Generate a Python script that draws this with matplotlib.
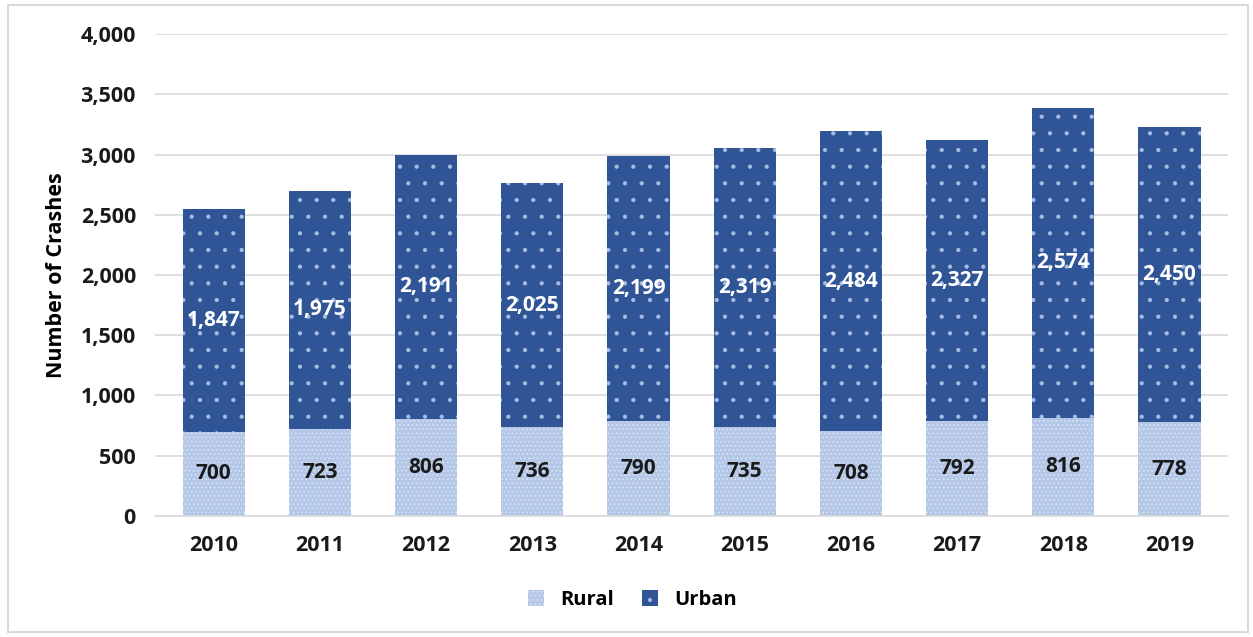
import matplotlib
matplotlib.use('Agg')
import numpy as np
from matplotlib import pyplot as plt
from matplotlib.patches import Rectangle

years = ['2010', '2011', '2012', '2013', '2014', '2015', '2016', '2017', '2018', '2019']
rural = [700, 723, 806, 736, 790, 735, 708, 792, 816, 778]
urban = [1847, 1975, 2191, 2025, 2199, 2319, 2484, 2327, 2574, 2450]

plt.rcParams['font.family'] = ['Open Sans', 'DejaVu Sans']
plt.rcParams['font.weight'] = 'bold'
plt.rcParams['hatch.linewidth'] = 0.6

rural_c = '#b4c7e7'
urban_c = '#2f5597'

fig = plt.figure(figsize=(12.53, 6.37), dpi=100)
ax = fig.add_axes([0.124, 0.19, 0.856, 0.7566])

x = np.arange(len(years))
w = 0.585
b1 = ax.bar(x, rural, w, color=rural_c, edgecolor='#dde6f5', linewidth=0, hatch='....', label='Rural', zorder=2)
b2 = ax.bar(x, urban, w, bottom=rural, color=urban_c, edgecolor='#a9bde3', linewidth=0, hatch='.', label='Urban', zorder=2)

for i in range(len(years)):
    ax.text(x[i], rural[i] / 2, f'{rural[i]:,}', ha='center', va='center',
            fontsize=15, fontweight='bold', color='#1a1a1a', zorder=3)
    ax.text(x[i], rural[i] + urban[i] / 2, f'{urban[i]:,}', ha='center', va='center',
            fontsize=15, fontweight='bold', color='white', zorder=3)

ax.set_ylim(0, 4000)
ax.set_xlim(-0.55, len(years) - 0.45)
ax.set_yticks(np.arange(0, 4001, 500))
ax.yaxis.set_major_formatter(matplotlib.ticker.StrMethodFormatter('{x:,.0f}'))
ax.set_xticks(x)
ax.set_xticklabels(years)
ax.tick_params(axis='both', length=0, labelsize=15.5, colors='#1a1a1a', pad=14)
ax.tick_params(axis='y', pad=14)
ax.grid(axis='y', color='#d9d9d9', linewidth=1.2, zorder=0)
for s in ['top', 'right', 'left']:
    ax.spines[s].set_visible(False)
ax.spines['bottom'].set_color('#d9d9d9')
ax.spines['bottom'].set_linewidth(1.2)
ax.set_ylabel('Number of Crashes', fontsize=15.5, fontweight='bold', labelpad=10)

fig.legend(handles=[b1, b2], loc='center', bbox_to_anchor=(0.505, 0.058), ncol=2,
           frameon=False, fontsize=14.5, handlelength=0.8, handleheight=0.8,
           columnspacing=1.4, handletextpad=0.8)

fig.patches.append(Rectangle((0.006, 0.008), 0.99, 0.984, transform=fig.transFigure,
                             fill=False, edgecolor='#d9d9d9', linewidth=1.5))

fig.savefig('out.png', dpi=100)
